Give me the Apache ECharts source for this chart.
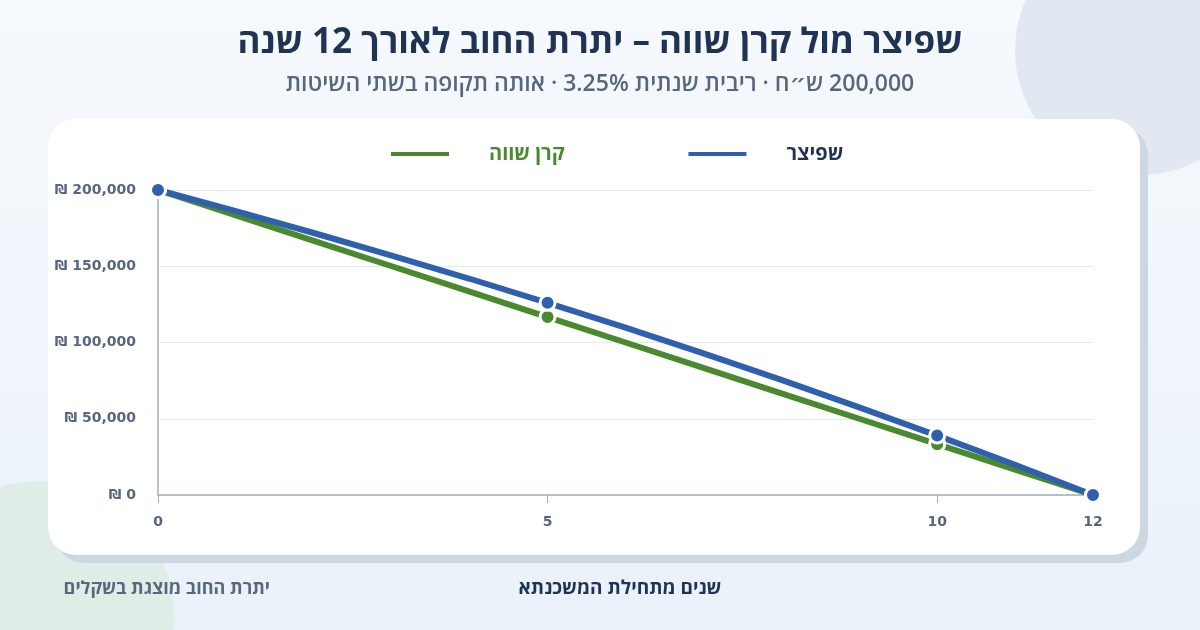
<!DOCTYPE html>
<html lang="he">
<head>
<meta charset="utf-8">
<title>שפיצר מול קרן שווה</title>
<script src="https://cdn.jsdelivr.net/npm/echarts@6/dist/echarts.min.js"></script>
<style>
  html, body { margin: 0; padding: 0; }
  #chart { width: 1200px; height: 630px; }
</style>
</head>
<body>
<div id="chart"></div>
<script>
// remaining balance at the end of each year
const years = [0, 1, 2, 3, 4, 5, 6, 7, 8, 9, 10, 11, 12];
const spitzer = [200000, 186100, 171800, 157000, 141800, 126000, 109700, 92900, 75500, 57500, 38950, 19800, 0];
const equalPrincipal = [200000, 183300, 166700, 150000, 133300, 116700, 100000, 83300, 66700, 50000, 33300, 16700, 0];
const markedYears = [0, 5, 10, 12];
const xTicks = [0, 5, 10, 12];
const seriesNames = ["קרן שווה", "שפיצר"];

const FONT = '"Open Sans", "DejaVu Sans", sans-serif';
const NUM_FONT = '"DejaVu Sans", sans-serif';
const NAVY = "#1f3454";
const MUTED = "#56677f";
const BLUE = "#2f60ad";
const GREEN = "#4a8a2f";
const RLM = "\u200F";

const chart = echarts.init(document.getElementById("chart"));

function pairs(values) {
  return years.map((y, i) => [y, values[i]]);
}

function lineSeries(name, values, color) {
  return {
    name,
    type: "line",
    data: pairs(values),
    lineStyle: { color, width: 6 },
    itemStyle: { color, borderColor: "#fff", borderWidth: 3 },
    symbol: "circle",
    symbolSize: (v) => (markedYears.includes(v[0]) ? 15 : 0),
    showSymbol: true,
    animation: false,
  };
}

chart.setOption({
  backgroundColor: {
    type: "linear", x: 0, y: 0, x2: 0, y2: 1,
    colorStops: [{ offset: 0, color: "#f6f9fd" }, { offset: 1, color: "#eaf1f9" }],
  },
  textStyle: { fontFamily: FONT },
  graphic: [
    { type: "circle", shape: { cx: 1140, cy: 50, r: 125 }, style: { fill: "#e2e8f1" }, z: -10 },
    { type: "circle", shape: { cx: 40, cy: 615, r: 134 }, style: { fill: "#e0ece6" }, z: -10 },
    { type: "rect", shape: { x: 56, y: 127, width: 1092, height: 436, r: 28 }, style: { fill: "#cdd7e2" }, z: -9 },
    { type: "rect", shape: { x: 48, y: 119, width: 1092, height: 436, r: 28 }, style: { fill: "#ffffff" }, z: -8 },
    {
      type: "text", x: 600, y: 43,
      style: {
        text: RLM + "שפיצר מול קרן שווה – יתרת החוב לאורך 12 שנה",
        font: `bold 35px ${FONT}`, fill: NAVY, textAlign: "center", textVerticalAlign: "middle",
      },
    },
    {
      type: "text", x: 600, y: 84,
      style: {
        text: RLM + "200,000 ש״ח · ריבית שנתית 3.25% · אותה תקופה בשתי השיטות",
        font: `600 23px ${FONT}`, fill: MUTED, textAlign: "center", textVerticalAlign: "middle",
      },
    },
    {
      type: "text", x: 270, y: 589,
      style: {
        text: "יתרת החוב מוצגת בשקלים",
        font: `bold 18px ${FONT}`, fill: MUTED, textAlign: "right", textVerticalAlign: "middle",
      },
    },
    {
      type: "text", x: 620, y: 589,
      style: {
        text: "שנים מתחילת המשכנתא",
        font: `bold 19px ${FONT}`, fill: NAVY, textAlign: "center", textVerticalAlign: "middle",
      },
    },
  ],
  legend: {
    data: seriesNames,
    top: 139,
    left: 384,
    itemWidth: 60,
    itemHeight: 6,
    itemGap: 122,
    icon: "rect",
    formatter: (name) => (name === "שפיצר" ? `{b|${name}}` : `{g|${name}}`),
    textStyle: {
      fontFamily: FONT, fontSize: 20, fontWeight: "bold", padding: [0, 0, 0, 34],
      rich: {
        b: { color: NAVY, fontSize: 20, fontWeight: "bold", fontFamily: FONT },
        g: { color: GREEN, fontSize: 20, fontWeight: "bold", fontFamily: FONT },
      },
    },
  },
  grid: { left: 158, right: 107, top: 190, bottom: 135 },
  xAxis: {
    type: "value",
    min: 0,
    max: 12,
    axisLine: { lineStyle: { color: "#9fb0c4", width: 1.5 } },
    axisTick: { show: true, length: 8, customValues: xTicks, lineStyle: { color: "#9fb0c4" } },
    axisLabel: {
      customValues: xTicks,
      margin: 20,
      color: MUTED, fontSize: 14, fontWeight: "bold", fontFamily: NUM_FONT,
    },
    splitLine: { show: false },
  },
  yAxis: {
    type: "value",
    min: 0,
    max: 200000,
    interval: 50000,
    axisLine: { show: true, lineStyle: { color: "#9fb0c4", width: 1.5 } },
    axisTick: { show: false },
    axisLabel: {
      margin: 22,
      color: MUTED, fontSize: 14, fontWeight: "bold", fontFamily: NUM_FONT,
      formatter: (v) => "₪ " + v.toLocaleString("en-US"),
    },
    splitLine: { lineStyle: { color: "#e3e9f1", width: 1 } },
  },
  series: [
    lineSeries(seriesNames[0], equalPrincipal, GREEN),
    lineSeries(seriesNames[1], spitzer, BLUE),
  ],
});
</script>
</body>
</html>
